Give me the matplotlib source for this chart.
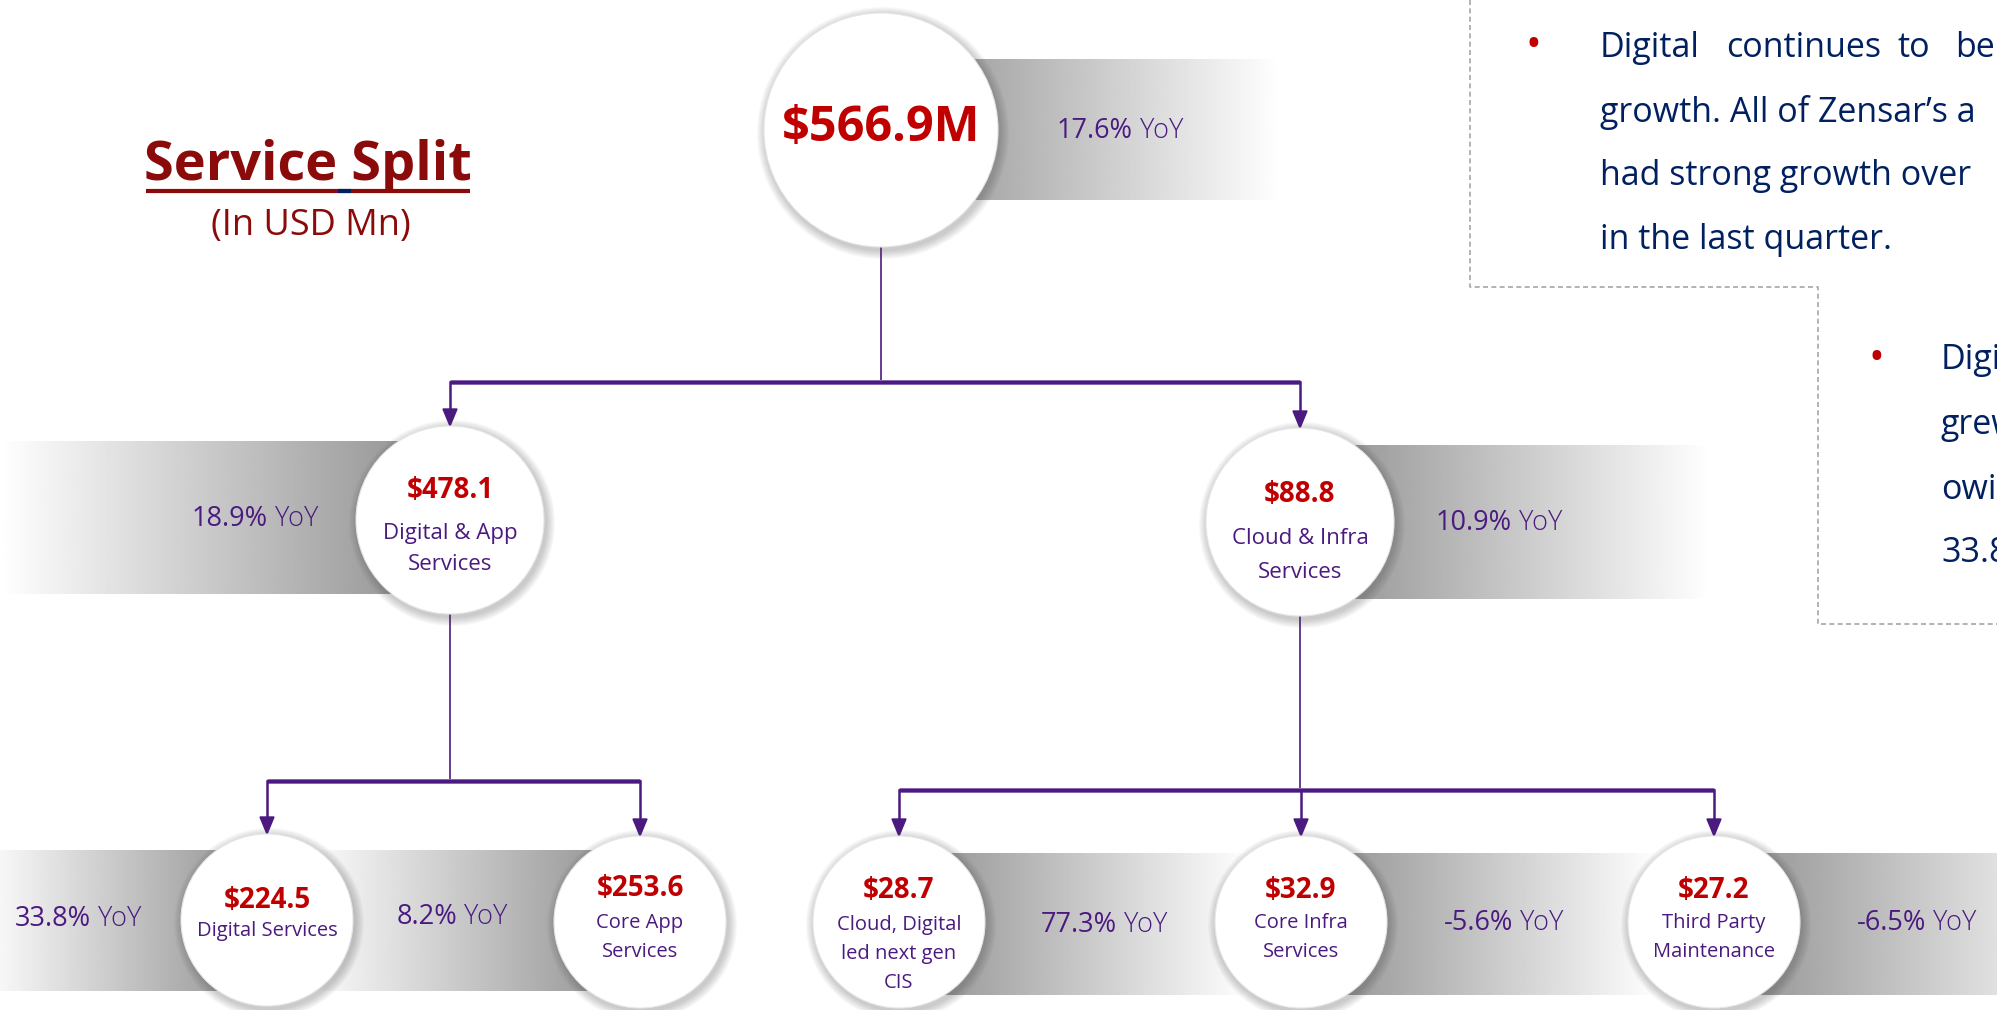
import numpy as np
import matplotlib
matplotlib.use("Agg")
import matplotlib.pyplot as plt
from matplotlib.patches import Circle, Polygon

plt.rcParams['font.family'] = ['Open Sans', 'DejaVu Sans']

# Service split data (USD Mn)
names = ["", "Digital & App\nServices", "Cloud & Infra\nServices",
         "Digital Services", "Core App\nServices",
         "Cloud, Digital\nled next gen\nCIS", "Core Infra\nServices",
         "Third Party\nMaintenance"]
values = [566.9, 478.1, 88.8, 224.5, 253.6, 28.7, 32.9, 27.2]
yoy = [17.6, 18.9, 10.9, 33.8, 8.2, 77.3, -5.6, -6.5]
parents = [None, 0, 0, 1, 1, 2, 2, 2]

notes1 = ["growth. All of Zensar\u2019s a", "had strong growth over", "in the last quarter."]
notes1_first = ["Digital", "continues", "to", "be"]
notes2 = ["Digital", "grew", "owing", "33.8%"]

# layout (pixels, figure is 1997 x 1010)
cx = [881, 450, 1300, 267, 640, 899, 1301, 1714]
cy = [130, 520, 522, 920, 922, 922, 922, 922]
rad = [117, 94, 94, 86, 86, 86, 86, 86]
band_far = [1280, 0, 1710, -20, 300, 1250, 1660, 2100]
band_y = [(59, 200), (441, 594), (445, 599), (850, 991), (850, 991),
          (853, 995), (853, 995), (853, 995)]
yoy_xy = [(1120, 131), (255, 519), (1499, 523), (78, 919), (452, 917),
          (1104, 925), (1504, 923), (1917, 923)]
val_y = [129, 491, 495, 900, 889, 890, 890, 890]
lab_y = [None, 534, 539, 931, 923, 925, 923, 923]
lab_gap = [0, 31, 33, 0, 29, 29, 29, 29]
val_size = [35, 20, 20, 20, 20, 20, 20, 20]
lab_size = [0, 16, 16, 14.5, 14.5, 14.5, 14.5, 14.5]
bus_y = {0: 382, 1: 781, 2: 790}

RED = '#C00000'
PURPLE = '#4B1A80'
NAVY = '#002060'
TITLE = '#8B0A0A'

fig = plt.figure(figsize=(19.97, 10.10), dpi=100)
ax = fig.add_axes([0, 0, 1, 1])

# gradient bands behind each circle
for i in range(len(values)):
    x0, x1 = sorted([cx[i], band_far[i]])
    g = np.linspace(0.55, 1.0, 256)
    if band_far[i] < cx[i]:
        g = g[::-1]
    ax.imshow(g[None, :], cmap='gray', vmin=0, vmax=1, aspect='auto',
              extent=(x0, x1, band_y[i][1], band_y[i][0]), zorder=1,
              interpolation='bilinear')

# connectors
for p in sorted(set(k for k in parents if k is not None)):
    kids = [i for i, q in enumerate(parents) if q == p]
    by = bus_y[p]
    ax.plot([cx[p], cx[p]], [cy[p] + rad[p], by], color=PURPLE, lw=1.2, zorder=2)
    xs = [cx[k] for k in kids]
    ax.plot([min(xs), max(xs)], [by, by], color='#8A6BB0', lw=3.6, zorder=2,
            solid_capstyle='butt')
    ax.plot([min(xs), max(xs)], [by, by], color=PURPLE, lw=2.2, zorder=2,
            solid_capstyle='butt')
    for k in kids:
        top = cy[k] - rad[k]
        ax.plot([cx[k], cx[k]], [by, top - 14], color=PURPLE, lw=1.8, zorder=2)
        ax.add_patch(Polygon([(cx[k] - 7, top - 17), (cx[k] + 7, top - 17),
                              (cx[k], top)], closed=True, color=PURPLE, zorder=2))

# circles with soft shadow
for i in range(len(values)):
    for k in range(9, 0, -1):
        ax.add_patch(Circle((cx[i] + 2, cy[i] + 3), rad[i] + k,
                            color='#505050', alpha=0.035, lw=0, zorder=3))
    ax.add_patch(Circle((cx[i], cy[i]), rad[i], facecolor='white',
                        edgecolor='#E6E6E6', lw=0.8, zorder=4))
    label = "$%.1fM" % values[i] if i == 0 else "$%.1f" % values[i]
    ax.text(cx[i], val_y[i], label, color=RED, fontsize=val_size[i],
            fontweight='bold', ha='center', va='center', zorder=5,
            parse_math=False)
    if names[i]:
        for j, line in enumerate(names[i].split("\n")):
            ax.text(cx[i], lab_y[i] + j * lab_gap[i], line, color=PURPLE,
                    fontsize=lab_size[i], ha='center', va='center', zorder=5)

ax.set_xlim(0, 1997)
ax.set_ylim(1010, 0)
ax.axis('off')

# YoY labels: number + lighter "YoY", centred as one group
fig.canvas.draw()
renderer = fig.canvas.get_renderer()
for i in range(len(values)):
    x, y = yoy_xy[i]
    t1 = ax.text(0, y, "%.1f%%" % yoy[i], color=PURPLE, fontsize=19.5,
                 ha='left', va='center', zorder=5)
    t2 = ax.text(0, y, " YoY", color=PURPLE, fontsize=19.5, fontweight='light',
                 ha='left', va='center', zorder=5)
    w1 = t1.get_window_extent(renderer).width
    w2 = t2.get_window_extent(renderer).width
    left = x - (w1 + w2) / 2
    t1.set_x(left)
    t2.set_x(left + w1)

# title
ax.text(308, 166, "Service Split", color=TITLE, fontsize=39, fontweight='bold',
        ha='center', va='center')
ax.plot([146, 470], [191, 191], color=TITLE, lw=3, solid_capstyle='butt')
ax.plot([338, 351], [191, 191], color=NAVY, lw=3, solid_capstyle='butt')
ax.text(311, 226, "(In USD Mn)", color=TITLE, fontsize=26, ha='center', va='center')

# commentary box
ax.plot([1470, 1470, 1818, 1818, 1997], [0, 287, 287, 624, 624],
        color='#A6A6A6', lw=1.2, ls=(0, (3, 2)))
ax.text(1533, 46, "\u2022", color=RED, fontsize=30, ha='center', va='center')
for word, wx in zip(notes1_first, [1600, 1726, 1898, 1955]):
    ax.text(wx, 48, word, color=NAVY, fontsize=24.5, ha='left', va='center')
for j, line in enumerate(notes1):
    ax.text(1600, 112 + j * 64, line, color=NAVY, fontsize=24.5, ha='left',
            va='center')
ax.text(1876, 359, "\u2022", color=RED, fontsize=30, ha='center', va='center')
for j, line in enumerate(notes2):
    ax.text(1941, [360, 425, 490, 553][j], line, color=NAVY, fontsize=24.5,
            ha='left', va='center')

fig.savefig("out.png", dpi=100)
